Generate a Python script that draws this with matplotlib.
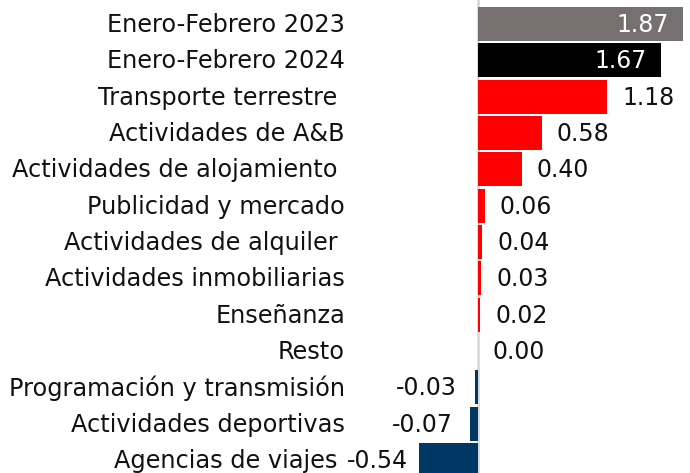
import matplotlib
matplotlib.use("Agg")
import matplotlib.pyplot as plt

categories = ["Enero-Febrero 2023", "Enero-Febrero 2024", "Transporte terrestre ",
              "Actividades de A&B", "Actividades de alojamiento ", "Publicidad y mercado",
              "Actividades de alquiler ", "Actividades inmobiliarias", "Enseñanza", "Resto",
              "Programación y transmisión", "Actividades deportivas", "Agencias de viajes "]
values = [1.87, 1.67, 1.18, 0.58, 0.40, 0.06, 0.04, 0.03, 0.02, 0.00, -0.03, -0.07, -0.54]
labels = ["1.87", "1.67", "1.18", "0.58", "0.40", "0.06", "0.04", "0.03", "0.02", "0.00",
          "-0.03", "-0.07", "-0.54"]

GRAY, BLACK, RED, NAVY = "#767171", "#000000", "#FF0000", "#003865"
colors = [GRAY, BLACK] + [RED if v >= 0 else NAVY for v in values[2:]]

W, H, DPI = 690, 473, 100
plt.rcParams['font.family'] = ['DejaVu Sans']
fig = plt.figure(figsize=(W / DPI, H / DPI), dpi=DPI)
ax = fig.add_axes([0, 0, 1, 1])

ppu = 109.5           # pixels per unit
x0px = 478            # zero position in pixels
row0, pitch = 24, 36.33
ax.set_xlim(-x0px / ppu, (W - x0px) / ppu)
ax.set_ylim((H - row0) / pitch, -row0 / pitch)
ax.axis("off")

ys = list(range(len(values)))
ax.barh(ys, values, height=0.94, color=colors, zorder=2)
ax.axvline(0, color="#D9D9D9", lw=2, zorder=1)

fs_cat = 17.3
fs_val = 17
lab_x = (345 - x0px) / ppu
for y, c in zip(ys, categories):
    ax.annotate(c, (lab_x, y), xytext=(0, -1), textcoords="offset pixels",
                ha="right", va="center", fontsize=fs_cat, color="#111111")

for i, (y, v, l) in enumerate(zip(ys, values, labels)):
    if i < 2:
        ax.annotate(l, (v, y), xytext=(-14, -1), textcoords="offset pixels",
                    ha="right", va="center", fontsize=fs_val, color="white")
    elif v >= 0:
        ax.annotate(l, (v, y), xytext=(15, -1), textcoords="offset pixels",
                    ha="left", va="center", fontsize=fs_val, color="#111111")
    else:
        off = -18 if abs(v) < 0.2 else -11
        ax.annotate(l, (v, y), xytext=(off, -1), textcoords="offset pixels",
                    ha="right", va="center", fontsize=fs_val, color="#111111")

fig.savefig("out.png", dpi=DPI)
